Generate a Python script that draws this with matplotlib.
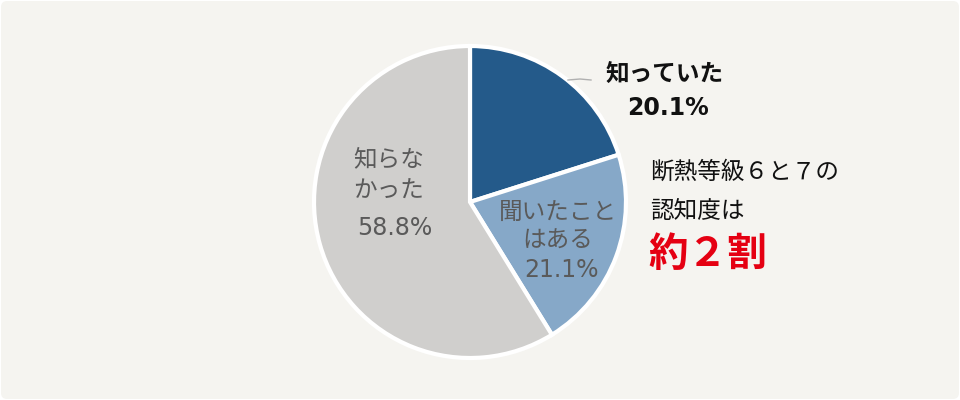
import matplotlib
matplotlib.use("Agg")
import matplotlib.pyplot as plt
from matplotlib.patches import FancyBboxPatch

plt.rcParams['font.family'] = ['Noto Sans CJK JP', 'DejaVu Sans']

labels = ["知っていた", "聞いたことはある", "知らなかった"]
values = [20.1, 21.1, 58.8]
colors = ["#245a8a", "#86a8c8", "#d0cfcd"]

fig = plt.figure(figsize=(9.6, 4.0), dpi=100)
fig.patch.set_facecolor("white")
ax = fig.add_axes([0, 0, 1, 1])
ax.set_xlim(0, 960)
ax.set_ylim(0, 400)
ax.set_aspect("equal")
ax.axis("off")

bg = FancyBboxPatch((1, 1), 958, 398, boxstyle="round,pad=0,rounding_size=6",
                    facecolor="#f5f4f0", edgecolor="none", zorder=0)
ax.add_patch(bg)

ax.pie(values, colors=colors, startangle=90, counterclock=False,
       center=(470, 198), radius=156,
       wedgeprops=dict(edgecolor="white", linewidth=3), frame=True)
ax.set_xlim(0, 960)
ax.set_ylim(0, 400)
ax.axis("off")

def Y(y):
    return 400 - y

pct_font = ['DejaVu Sans']

# Known label
ax.plot([568, 580, 591], [Y(80), Y(79), Y(80)], color="#b0b0b0", lw=1)
ax.text(665, Y(75), "知っていた", ha="center", va="center", fontsize=17,
        fontweight="bold", color="#111111")
ax.text(668, Y(108), f"{values[0]}%", ha="center", va="center", fontsize=17,
        fontweight="bold", color="#111111", family=pct_font)

# Heard label
gray = "#5a5a5a"
ax.text(558, Y(212), "聞いたこと", ha="center", va="center", fontsize=17, color=gray)
ax.text(558, Y(241), "はある", ha="center", va="center", fontsize=17, color=gray)
ax.text(562, Y(270), f"{values[1]}%", ha="center", va="center", fontsize=17,
        color=gray, family=pct_font)

# Didn't know label
ax.text(389, Y(160), "知らな", ha="center", va="center", fontsize=17, color=gray)
ax.text(389, Y(191), "かった", ha="center", va="center", fontsize=17, color=gray)
ax.text(395, Y(228), f"{values[2]}%", ha="center", va="center", fontsize=17,
        color=gray, family=pct_font)

# Right annotation
ax.text(650, Y(172), "断熱等級６と７の", ha="left", va="center", fontsize=17, color="#111111")
ax.text(650, Y(211), "認知度は", ha="left", va="center", fontsize=17, color="#111111")
ax.text(648, Y(255), "約２割", ha="left", va="center", fontsize=28.5,
        fontweight="bold", color="#e50012")

fig.savefig("out.png", dpi=100, facecolor="white")
